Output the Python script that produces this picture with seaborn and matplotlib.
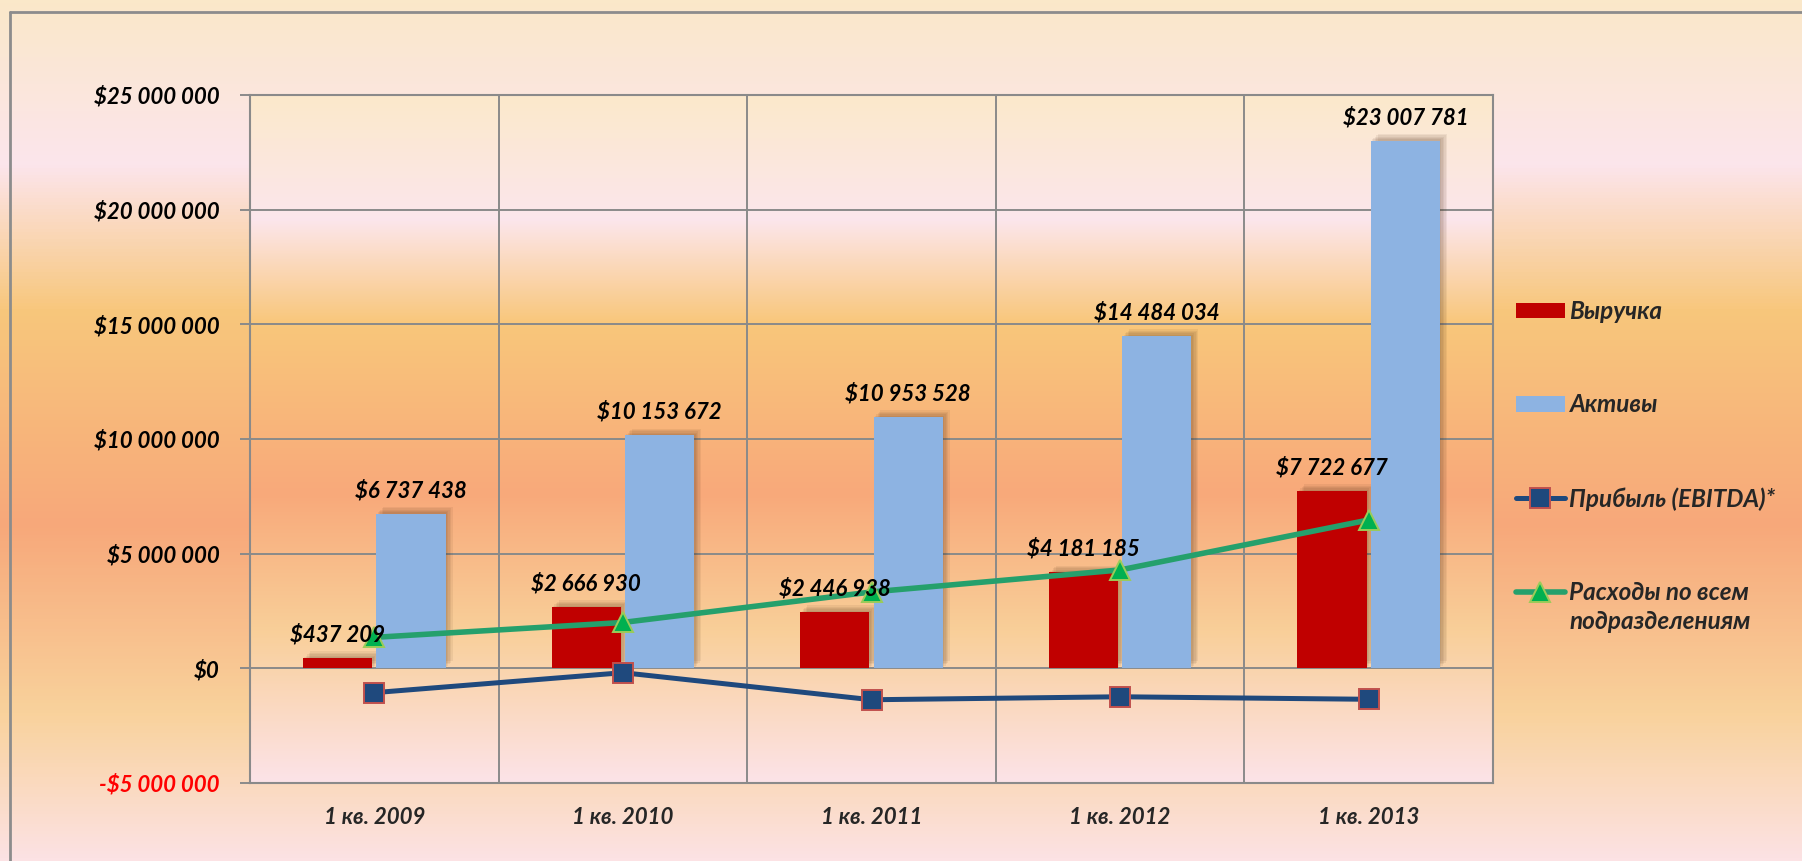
import numpy as np
import pandas as pd
import matplotlib
matplotlib.use("Agg")
import matplotlib.pyplot as plt
import matplotlib.patheffects as pe
from matplotlib.colors import LinearSegmentedColormap
from matplotlib.patches import Patch
from matplotlib.lines import Line2D
from matplotlib.ticker import FuncFormatter, FixedLocator
import seaborn as sns

# ---------------- data ----------------
quarters = ["1 кв. 2009", "1 кв. 2010", "1 кв. 2011", "1 кв. 2012", "1 кв. 2013"]
revenue = [437209, 2666930, 2446938, 4181185, 7722677]          # Выручка
assets = [6737438, 10153672, 10953528, 14484034, 23007781]      # Активы
ebitda = [-1060000, -190000, -1370000, -1240000, -1350000]      # Прибыль (EBITDA)*
expenses = [1350000, 2000000, 3330000, 4290000, 6470000]        # Расходы по всем подразделениям
series_names = ["Выручка", "Активы", "Прибыль (EBITDA)*", "Расходы по всем", "подразделениям"]
y_ticks = [-5000000, 0, 5000000, 10000000, 15000000, 20000000, 25000000]

# ---------------- style ----------------
sns.set_theme(style="white")
plt.rcParams["font.family"] = ["Lato", "Noto Sans", "DejaVu Sans"]
plt.rcParams["font.weight"] = "bold"
plt.rcParams["font.style"] = "italic"
FS = 16
LFS = 17.5

RED = "#C00000"
BLUE = "#8DB3E2"
NAVY = "#1F497D"
GREEN_LINE = "#25A06C"
GRID = "#8A8A8A"

W, H = 1802, 861
fig = plt.figure(figsize=(W / 100, H / 100), dpi=100)

# figure background gradient
bg_cmap = LinearSegmentedColormap.from_list(
    "bg",
    [(0.0, "#FAE8C9"), (0.19, "#FCE5EC"), (0.36, "#F8C77C"),
     (0.61, "#F7A87A"), (0.83, "#F9D29C"), (1.0, "#FCE2E4")])
bgax = fig.add_axes([0, 0, 1, 1], zorder=-10)
bgax.imshow(np.linspace(0, 1, 256).reshape(-1, 1), cmap=bg_cmap, aspect="auto",
            extent=[0, 1, 0, 1], origin="upper")
bgax.set_axis_off()

# outer frame (top and left lines)
fig.add_artist(Line2D([10 / W, 1.0], [1 - 12 / H, 1 - 12 / H], color="#8C8C8C", lw=2,
                      transform=fig.transFigure))
fig.add_artist(Line2D([10 / W, 10 / W], [1 - 12 / H, 0], color="#8C8C8C", lw=2,
                      transform=fig.transFigure))

ax = fig.add_axes([250 / W, 1 - 783 / H, (1493 - 250) / W, (783 - 95) / H])
ax.patch.set_visible(False)

# plot-area gradient
pa_cmap = LinearSegmentedColormap.from_list(
    "pa",
    [(0.0, "#FBE9CB"), (0.18, "#FCE6EC"), (0.33, "#F9C77B"),
     (0.58, "#F8A97A"), (0.78, "#F9CF99"), (1.0, "#FCE3E8")])
ax.imshow(np.linspace(0, 1, 256).reshape(-1, 1), cmap=pa_cmap, aspect="auto",
          extent=[0, 1, 0, 1], origin="upper", transform=ax.transAxes, zorder=0)

# ---------------- bars ----------------
df = pd.DataFrame({
    "quarter": quarters * 2,
    "value": revenue + assets,
    "series": [series_names[0]] * 5 + [series_names[1]] * 5,
})
sns.barplot(data=df, x="quarter", y="value", hue="series", order=quarters,
            hue_order=series_names[:2], palette=[RED, BLUE], width=0.59, gap=0.055,
            saturation=1, legend=False, ax=ax, zorder=3, linewidth=0)
shadow = [pe.SimplePatchShadow(offset=(o, o), shadow_rgbFace="#4A2A10", alpha=0.07)
          for o in (1, 2, 3, 4, 5)]
for p in ax.patches:
    p.set_path_effects(shadow + [pe.Normal()])

def money(v, pos=None):
    v = int(round(v))
    s = f"{abs(v):,}".replace(",", " ")
    return ("-" if v < 0 else "") + "$" + s

for cont, vals in zip(ax.containers, [revenue, assets]):
    ax.bar_label(cont, labels=[money(v) for v in vals], padding=9, fontsize=FS,
                 fontweight="bold", fontstyle="italic", color="black", zorder=10)

# ---------------- lines ----------------
sq_kw = dict(color=NAVY, lw=3.6, marker="s", markersize=14, markerfacecolor=NAVY,
             markeredgecolor="#C0504D", markeredgewidth=1.4)
tr_kw = dict(color=GREEN_LINE, lw=4.0, marker="^", markersize=14, markerfacecolor="#00B050",
             markeredgecolor="#9BCB59", markeredgewidth=1.4)
sns.lineplot(x=quarters, y=ebitda, ax=ax, zorder=5, sort=False, **sq_kw)
sns.lineplot(x=quarters, y=expenses, ax=ax, zorder=5, sort=False, **tr_kw)

# ---------------- axes ----------------
ax.set_xlim(-0.5, 4.5)
ax.set_ylim(-5000000, 25000000)
ax.yaxis.set_major_locator(FixedLocator(y_ticks))
ax.yaxis.set_major_formatter(FuncFormatter(money))
ax.set_xlabel("")
ax.set_ylabel("")
ax.set_xticks(range(len(quarters)))
ax.set_xticklabels(quarters)
ax.set_xticks(np.arange(0.5, len(quarters) - 0.5, 1), minor=True)
ax.grid(True, axis="y", which="major", color=GRID, lw=1.4, zorder=1)
ax.grid(True, axis="x", which="minor", color=GRID, lw=1.4, zorder=1)
ax.grid(False, axis="x", which="major")
ax.set_axisbelow(True)
for s in ax.spines.values():
    s.set_color(GRID)
    s.set_linewidth(1.5)
    s.set_visible(True)
ax.tick_params(axis="y", which="major", length=7, width=1.4, color=GRID, pad=15,
               left=True, labelsize=FS)
ax.tick_params(axis="x", which="both", length=0, pad=17, labelsize=FS)
for lab in ax.get_yticklabels() + ax.get_xticklabels():
    lab.set_fontweight("bold")
    lab.set_fontstyle("italic")
for lab, v in zip(ax.get_yticklabels(), y_ticks):
    lab.set_color("#FF0000" if v < 0 else "black")

# ---------------- legend ----------------
handles = [
    Patch(facecolor=RED, edgecolor="none"),
    Patch(facecolor=BLUE, edgecolor="none"),
    Line2D([], [], **sq_kw),
    Line2D([], [], **tr_kw),
]
leg = fig.legend(handles, series_names[:4], loc="upper left",
                 bbox_to_anchor=(1516 / W, 1 - 300 / H),
                 frameon=False, handlelength=2.0, handleheight=0.6,
                 handletextpad=0.2, labelspacing=2.9, borderpad=0, borderaxespad=0,
                 prop={"weight": "bold", "style": "italic", "size": LFS})

# second line of the last legend label, aligned under the first line
fig.canvas.draw()
t4 = leg.get_texts()[3]
bb = t4.get_window_extent(renderer=fig.canvas.get_renderer())
fig.text(bb.x0 / W, (bb.y0 - 29) / H, series_names[4], fontsize=LFS,
         fontweight="bold", fontstyle="italic", ha="left", va="bottom")

fig.savefig("out.png", dpi=100)
